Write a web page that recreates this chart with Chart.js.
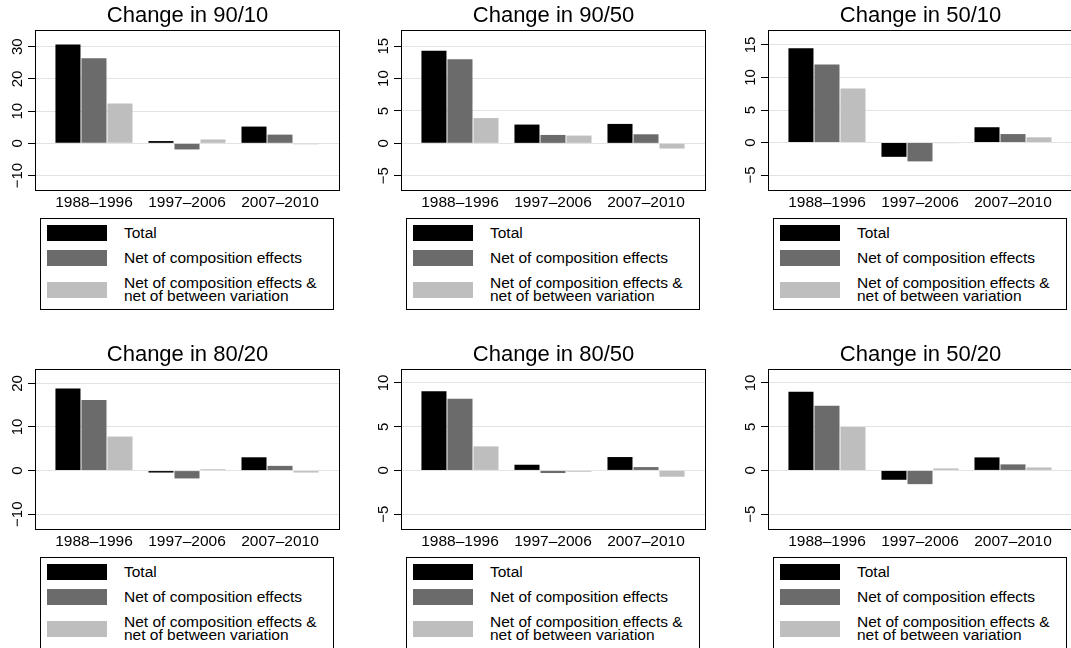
<!DOCTYPE html>
<html>
<head>
<meta charset="utf-8">
<script src="https://cdn.jsdelivr.net/npm/chart.js@4.4.0/dist/chart.umd.min.js"></script>
<style>
html,body{margin:0;padding:0;background:#fff;}
body{width:1071px;height:648px;overflow:hidden;position:relative;font-family:"Liberation Sans",Arial,Helvetica,sans-serif;}
canvas{position:absolute;display:block;}
.legend{position:absolute;border:1px solid #000;box-sizing:border-box;width:294px;height:92px;background:#fff;}
.sw{position:absolute;left:6px;width:60px;height:16px;}
.lt{position:absolute;left:83px;font-size:15.5px;line-height:13px;color:#000;white-space:pre-line;transform:translateY(-50%);}
</style>
</head>
<body>
<script>
// ---- data ----
const categories = ['1988\u20131996', '1997\u20132006', '2007\u20132010'];
const seriesNames = ['Total', 'Net of composition effects', 'Net of composition effects &\nnet of between variation'];
const panelTitles = ['Change in 90/10', 'Change in 90/50', 'Change in 50/10', 'Change in 80/20', 'Change in 80/50', 'Change in 50/20'];
const totalValues = [
  [30.7, 0.7, 5.2],
  [14.3, 2.9, 3.0],
  [14.5, -2.2, 2.35],
  [18.8, -0.45, 3.05],
  [9.05, 0.65, 1.53],
  [9.0, -1.07, 1.49]
];
const netCompositionValues = [
  [26.4, -1.9, 2.7],
  [13.0, 1.3, 1.4],
  [12.0, -2.9, 1.3],
  [16.2, -1.8, 1.08],
  [8.2, -0.3, 0.38],
  [7.4, -1.57, 0.69]
];
const netCompositionBetweenValues = [
  [12.4, 1.2, -0.3],
  [3.9, 1.2, -0.8],
  [8.3, -0.1, 0.8],
  [7.8, 0.3, -0.45],
  [2.75, -0.15, -0.72],
  [4.98, 0.23, 0.34]
];
const yTickValues = [
  [-10, 0, 10, 20, 30],
  [-5, 0, 5, 10, 15],
  [-5, 0, 5, 10, 15],
  [-10, 0, 10, 20],
  [-5, 0, 5, 10],
  [-5, 0, 5, 10]
];
const yRanges = [
  [-14.5, 35.2],
  [-7.2, 17.5],
  [-7.3, 17.3],
  [-13.4, 23.3],
  [-6.7, 11.6],
  [-6.7, 11.6]
];

// ---- styles / layout ----
const FONT = '"Liberation Sans", Arial, Helvetica, sans-serif';
const colors = ['#000000', '#6b6b6b', '#bebebe'];
const seriesList = [totalValues, netCompositionValues, netCompositionBetweenValues];
const colX = [0, 366, 733];
const rowY = [0, 339];
const CW = 345, CH = 215;

const framePlugin = {
  id: 'frame',
  afterDraw(chart) {
    const a = chart.chartArea, ctx = chart.ctx;
    ctx.save();
    ctx.strokeStyle = '#000';
    ctx.lineWidth = 1;
    ctx.strokeRect(Math.round(a.left) + 0.5, Math.round(a.top) + 0.5, Math.round(a.right - a.left) - 1, Math.round(a.bottom - a.top));
    ctx.restore();
  }
};
const yLabelPlugin = {
  id: 'ylabels',
  afterDraw(chart) {
    const s = chart.scales.y, ctx = chart.ctx;
    ctx.save();
    ctx.fillStyle = '#000';
    ctx.font = '15px ' + FONT;
    ctx.textAlign = 'center';
    ctx.textBaseline = 'alphabetic';
    s.ticks.forEach(t => {
      const y = s.getPixelForValue(t.value);
      const txt = (t.value < 0 ? '\u2212' : '') + Math.abs(t.value);
      ctx.save();
      ctx.translate(22, y);
      ctx.rotate(-Math.PI / 2);
      ctx.fillText(txt, 0, 0);
      ctx.restore();
    });
    ctx.restore();
  }
};

for (let i = 0; i < 6; i++) {
  const cv = document.createElement('canvas');
  cv.width = CW; cv.height = CH;
  cv.style.left = colX[i % 3] + 'px';
  cv.style.top = rowY[Math.floor(i / 3)] + 'px';
  document.body.appendChild(cv);

  new Chart(cv.getContext('2d'), {
    type: 'bar',
    data: {
      datasets: seriesList.map((vals, k) => ({
        label: seriesNames[k],
        data: vals[i].map((v, j) => ({ x: j, y: v })),
        backgroundColor: colors[k],
        borderWidth: 0,
        categoryPercentage: 0.839,
        barPercentage: 0.962
      }))
    },
    options: {
      responsive: false,
      animation: false,
      devicePixelRatio: 1,
      layout: { padding: { left: 0, right: 5, top: 0, bottom: 0 } },
      plugins: {
        legend: { display: false },
        tooltip: { enabled: false },
        title: {
          display: true,
          text: panelTitles[i],
          fullSize: false,
          color: '#000',
          font: { family: FONT, size: 22, weight: 'normal', lineHeight: 1.2 },
          padding: { top: 2.5, bottom: 1.1 }
        }
      },
      scales: {
        x: {
          type: 'linear',
          offset: false,
          min: -0.634,
          max: 2.645,
          grid: { display: false, drawTicks: false, offset: false },
          border: { display: false },
          afterBuildTicks: s => { s.ticks = categories.map((c, j) => ({ value: j })); },
          afterFit: s => { s.height = 25; },
          ticks: {
            callback: v => categories[v],
            color: '#000',
            font: { family: FONT, size: 15.5 },
            maxRotation: 0, minRotation: 0, autoSkip: false, padding: 3
          }
        },
        y: {
          min: yRanges[i][0],
          max: yRanges[i][1],
          afterBuildTicks: s => { s.ticks = yTickValues[i].map(v => ({ value: v })); },
          afterFit: s => { s.width = 35; },
          grid: { color: '#e3e3e3', lineWidth: 1, tickColor: '#000', tickLength: 7, drawTicks: true },
          border: { display: false },
          ticks: { display: false }
        }
      }
    },
    plugins: [framePlugin, yLabelPlugin]
  });

  // legend box
  const lg = document.createElement('div');
  lg.className = 'legend';
  lg.style.left = (colX[i % 3] + 40) + 'px';
  lg.style.top = (rowY[Math.floor(i / 3)] + 218) + 'px';
  const swTops = [6, 31, 63];
  const txtMid = [12.5, 38, 70];
  seriesNames.forEach((name, k) => {
    const sw = document.createElement('div');
    sw.className = 'sw';
    sw.style.top = swTops[k] + 'px';
    sw.style.background = colors[k];
    lg.appendChild(sw);
    const t = document.createElement('div');
    t.className = 'lt';
    t.style.top = txtMid[k] + 'px';
    t.textContent = name;
    lg.appendChild(t);
  });
  document.body.appendChild(lg);
}
</script>
</body>
</html>
